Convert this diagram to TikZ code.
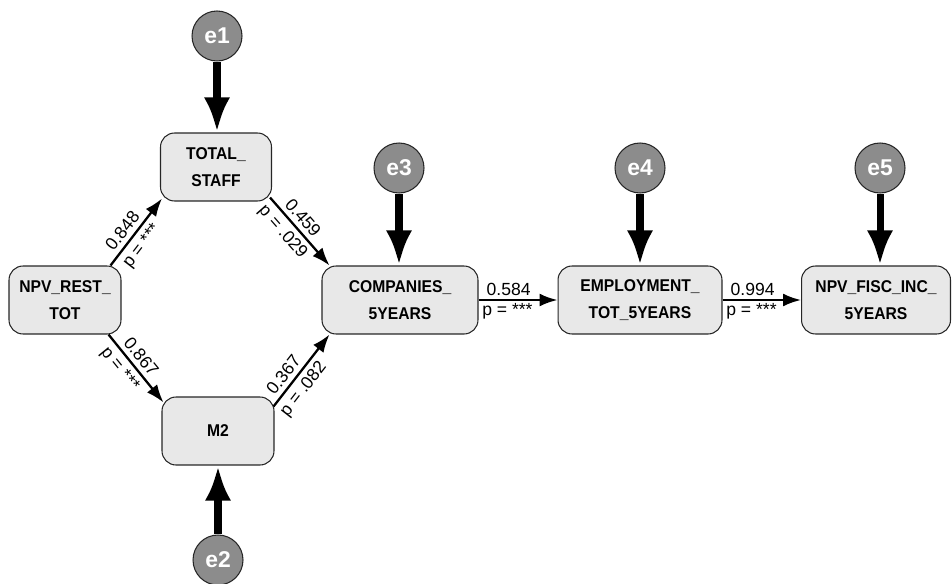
\documentclass[tikz,border=0pt]{standalone}
\usepackage{fontspec}
\setmainfont{Liberation Sans}
\newfontfamily\boxfont[FakeStretch=0.92]{Liberation Sans}
\usetikzlibrary{arrows.meta}

\definecolor{boxgray}{gray}{0.91}
\definecolor{errgray}{gray}{0.55}

\begin{document}
\begin{tikzpicture}[x=0.02cm,y=-0.02cm,
	obs/.style={draw=black!85, line width=0.6pt, fill=boxgray, rounded corners=0.28cm,
		minimum height=1.36cm, align=center, inner sep=0pt,
		font=\boxfont\fontsize{9.7}{15.3}\selectfont\bfseries},
	err/.style={circle, draw=black!85, line width=0.6pt, fill=errgray, minimum size=1cm,
		inner sep=0pt, text=white, font=\fontsize{13}{13}\selectfont\bfseries},
	arr/.style={-{Latex[length=0.36cm,width=0.26cm]}, line width=1.3pt},
	errarr/.style={-{Latex[length=0.7cm,width=0.52cm]}, line width=4pt},
	coef/.style={font=\fontsize{10}{10}\selectfont, inner sep=2.5pt}]
			\useasboundingbox (0,0) rectangle (952,584);

			\node[obs, minimum width=2.24cm] (rest) at (65,300) {NPV\_REST\_\\TOT};
			\node[obs, minimum width=2.22cm] (staff) at (216,167) {TOTAL\_\\STAFF};
			\node[obs, minimum width=2.24cm] (m2) at (218,431) {M2};
			\node[obs, minimum width=3.12cm] (comp) at (400,300) {COMPANIES\_\\5YEARS};
			\node[obs, minimum width=3.28cm] (empl) at (640,300) {EMPLOYMENT\_\\TOT\_5YEARS};
			\node[obs, minimum width=2.98cm] (fisc) at (876,300) {NPV\_FISC\_INC\_\\5YEARS};

			\node[err] (e1) at (217,36) {e1};
			\node[err] (e2) at (218,560) {e2};
			\node[err] (e3) at (399,168) {e3};
			\node[err] (e4) at (640,168) {e4};
			\node[err] (e5) at (880,168) {e5};

			\draw[errarr] (e1) -- (e1 |- staff.north);
			\draw[errarr] (e2) -- (e2 |- m2.south);
			\draw[errarr] (e3) -- (e3 |- comp.north);
			\draw[errarr] (e4) -- (e4 |- empl.north);
			\draw[errarr] (e5) -- (e5 |- fisc.north);

			\draw[arr] ([shift={(-11,0)}]rest.north east) --
				node[coef, sloped, above, pos=.41] {0.848}
				node[coef, sloped, below, pos=.41] {p = ***} ([shift={(2,-3)}]staff.south west);
			\draw[arr] ([shift={(-2,-4)}]staff.south east) --
				node[coef, sloped, above, pos=.41] {0.459}
				node[coef, sloped, below, pos=.38] {p = .029} ([shift={(8,0)}]comp.north west);
			\draw[arr] ([shift={(-13,0)}]rest.south east) --
				node[coef, sloped, above, pos=.43] {0.867}
				node[coef, sloped, below, pos=.39] {p = ***} ([shift={(2,6)}]m2.north west);
			\draw[arr] ([shift={(-1,10)}]m2.north east) --
				node[coef, sloped, above, pos=.34] {0.367}
				node[coef, sloped, below, pos=.35] {p = .082} ([shift={(8,0)}]comp.south west);

			\draw[arr] (comp) --
				node[coef, pos=0, anchor=south west, inner sep=2pt, xshift=2pt] {0.584}
				node[coef, pos=0, anchor=north west, inner sep=1.5pt] {p = ***} (empl);
			\draw[arr] (empl) --
				node[coef, pos=0, anchor=south west, inner sep=2pt, xshift=2pt] {0.994}
				node[coef, pos=0, anchor=north west, inner sep=1.5pt] {p = ***} (fisc);
			\end{tikzpicture}
\end{document}
